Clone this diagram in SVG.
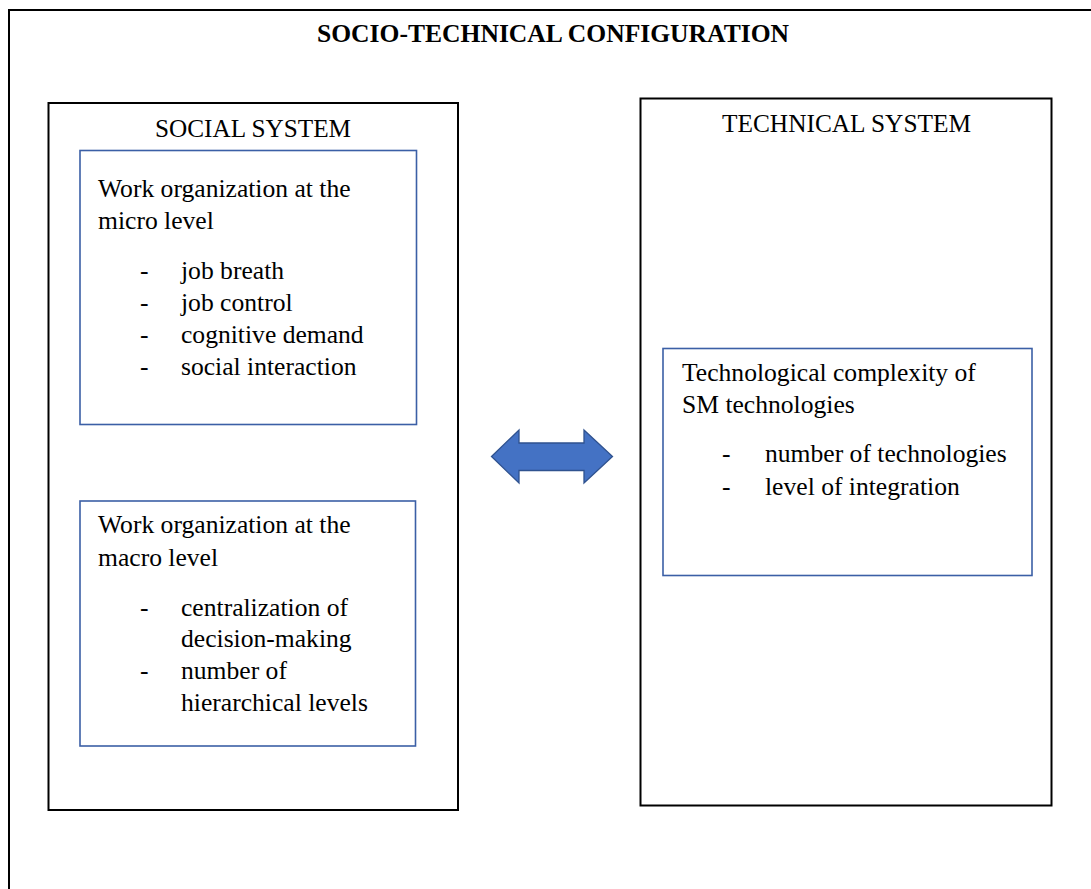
<svg xmlns="http://www.w3.org/2000/svg" width="1091" height="889" viewBox="0 0 1091 889">
  <style>
    .frame { fill: none; stroke: #000; stroke-width: 2; }
    .panel { fill: #fff; stroke: #000; stroke-width: 2; }
    .card { fill: #fff; stroke: #3B5FA6; stroke-width: 1.6; }
    .t { font-family: "Liberation Serif", "Times New Roman", serif; font-size: 25.6px; fill: #000; }
    .title { font-weight: bold; }
    .link { fill: #4472C4; stroke: #2F528F; stroke-width: 1.3; stroke-linejoin: miter; }
  </style>

  <rect width="1091" height="889" fill="#fff"/>

  <!-- outer configuration frame (runs past the right and bottom edges) -->
  <g id="configuration">
    <rect class="frame" x="9" y="10" width="1120" height="920"/>
    <text class="t title" x="317" y="42" textLength="472" lengthAdjust="spacingAndGlyphs">SOCIO-TECHNICAL CONFIGURATION</text>
  </g>

  <!-- social system -->
  <g id="social-system">
    <rect class="panel" x="48.5" y="103" width="409.5" height="707"/>
    <text class="t" x="155" y="137" textLength="196" lengthAdjust="spacingAndGlyphs">SOCIAL SYSTEM</text>
  </g>

  <g id="micro-level">
    <rect class="card" x="80" y="150.5" width="336.5" height="274"/>
    <text class="t" x="98" y="197">Work organization at the</text>
    <text class="t" x="98" y="229">micro level</text>
    <text class="t" x="140" y="279">-</text>
    <text class="t" x="181" y="279">job breath</text>
    <text class="t" x="140" y="311">-</text>
    <text class="t" x="181" y="311">job control</text>
    <text class="t" x="140" y="343">-</text>
    <text class="t" x="181" y="343">cognitive demand</text>
    <text class="t" x="140" y="374.5">-</text>
    <text class="t" x="181" y="374.5">social interaction</text>
  </g>

  <g id="macro-level">
    <rect class="card" x="80" y="501" width="335.5" height="245"/>
    <text class="t" x="98" y="533">Work organization at the</text>
    <text class="t" x="98" y="566">macro level</text>
    <text class="t" x="140" y="616">-</text>
    <text class="t" x="181" y="616">centralization of</text>
    <text class="t" x="181" y="647">decision-making</text>
    <text class="t" x="140" y="679">-</text>
    <text class="t" x="181" y="679">number of</text>
    <text class="t" x="181" y="711">hierarchical levels</text>
  </g>

  <!-- technical system -->
  <g id="technical-system">
    <rect class="panel" x="640.5" y="98.5" width="411" height="707"/>
    <text class="t" x="722" y="132" textLength="249" lengthAdjust="spacingAndGlyphs">TECHNICAL SYSTEM</text>
  </g>

  <g id="technological-complexity">
    <rect class="card" x="663" y="348.5" width="369" height="227"/>
    <text class="t" x="682" y="381">Technological complexity of</text>
    <text class="t" x="682" y="412.5">SM technologies</text>
    <text class="t" x="722" y="462">-</text>
    <text class="t" x="765" y="462">number of technologies</text>
    <text class="t" x="722" y="495">-</text>
    <text class="t" x="765" y="495">level of integration</text>
  </g>

  <!-- two-way link between the systems -->
  <g id="connectors">
    <polygon class="link" points="491.5,456.5 519,430 519,443 584,443 584,430 612.5,456.5 584,483 584,470.5 519,470.5 519,483"/>
  </g>
</svg>
